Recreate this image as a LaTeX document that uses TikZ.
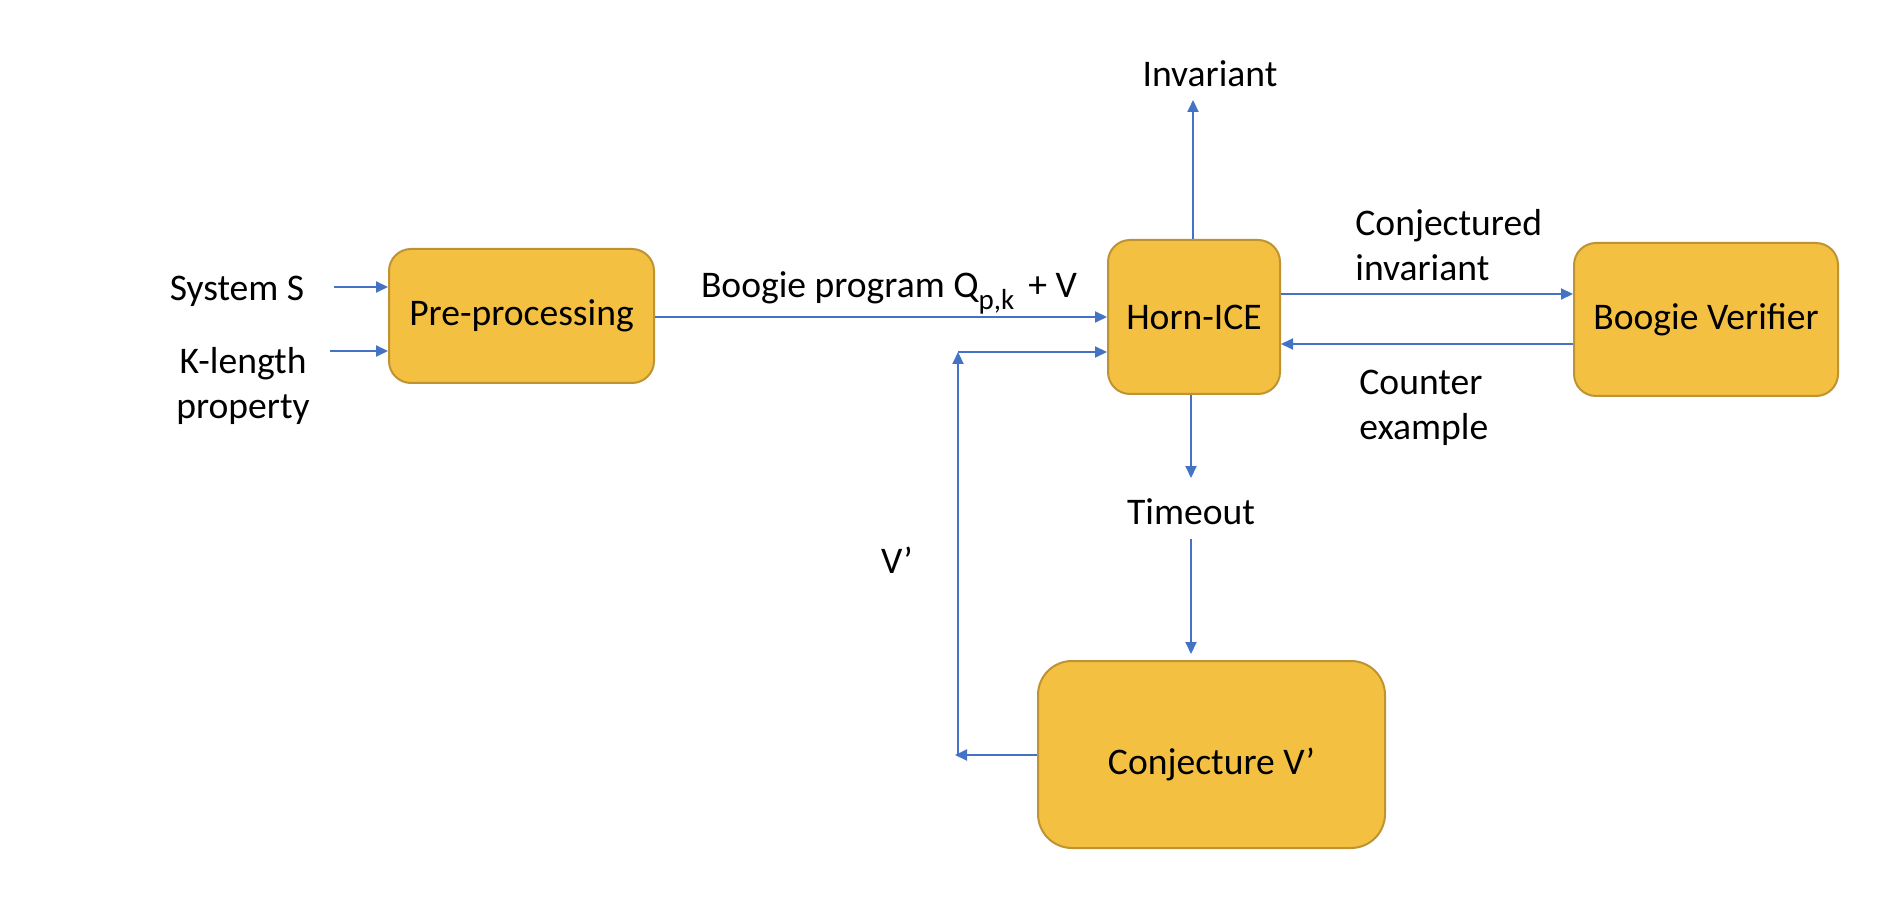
\documentclass[tikz,border=0pt]{standalone}
\usepackage{fontspec}
\setmainfont{Carlito}
\usetikzlibrary{arrows.meta}
\definecolor{boxfill}{HTML}{F4C042}
\definecolor{boxline}{HTML}{BF9232}
\definecolor{arrblue}{HTML}{4472C4}
\tikzset{
  blk/.style={draw=boxline, fill=boxfill, line width=1pt, rounded corners=11pt, inner sep=0pt, align=center},
  lbl/.style={inner sep=0pt, align=center},
  arr/.style={draw=arrblue, line width=1pt, -{Triangle[length=6pt,width=5.5pt]}},
  ln/.style={draw=arrblue, line width=1pt}
}
\begin{document}
\begin{tikzpicture}[x=0.5pt,y=-0.5pt, font=\fontsize{18.8}{22.5}\selectfont]
\useasboundingbox (0,0) rectangle (1884,914);
% boxes
\node[blk, minimum width=132.5pt, minimum height=67pt] (pre) at (521.5,316) {Pre-processing};
\node[blk, minimum width=86pt, minimum height=77pt] (horn) at (1194,317) {Horn-ICE};
\node[blk, minimum width=132pt, minimum height=76.5pt] (bv) at (1706,319.5) {Boogie Verifier};
\node[blk, minimum width=173.5pt, minimum height=93.5pt, rounded corners=17pt] (conj) at (1211.5,754.5) {};
\node[lbl] (conjt) at (1211.5,764) {Conjecture V’};
% labels
\node[lbl] (sys) at (237,291) {System S};
\node[lbl] (klen) at (243,386) {K-length\\property};
\node[lbl] (bprog) at (889,293) {Boogie program Q\raisebox{-0.32em}{\fontsize{14.5}{15}\selectfont p,k}\hspace{0.15em} + V};
\node[lbl] (inv) at (1210,74) {Invariant};
\node[lbl, anchor=west, align=left] (cinv) at (1355,245) {Conjectured\\invariant};
\node[lbl, anchor=west, align=left] (cex) at (1359,408) {Counter\\example};
\node[lbl] (tout) at (1191,512) {Timeout};
\node[lbl] (vp) at (897,560) {V’};
% coordinates
\coordinate (s1) at (334,287);
\coordinate (s2) at (330,351);
\coordinate (p1) at (0,317);
\coordinate (invtip) at (1193,100);
\coordinate (c1) at (0,294);
\coordinate (c2) at (0,344);
\coordinate (t1) at (1191,478);
\coordinate (t2) at (1191,539);
\coordinate (lft) at (955,755);
\coordinate (vb) at (958,755);
\coordinate (vt) at (958,352);
% connectors
\draw[arr] (s1) -- (s1 -| pre.west);
\draw[arr] (s2) -- (s2 -| pre.west);
\draw[arr] (pre.east |- p1) -- (horn.west |- p1);
\draw[arr] (horn.north -| invtip) -- (invtip);
\draw[arr] (horn.east |- c1) -- (bv.west |- c1);
\draw[arr] (bv.west |- c2) -- (horn.east |- c2);
\draw[arr] (horn.south -| t1) -- (t1);
\draw[arr, shorten >=3pt] (t2) -- (conj.north -| t2);
\draw[arr] (conj.west |- lft) -- (lft);
\draw[arr] (vb) -- (vt);
\draw[arr] (vt) -- (horn.west |- vt);
\end{tikzpicture}
\end{document}
